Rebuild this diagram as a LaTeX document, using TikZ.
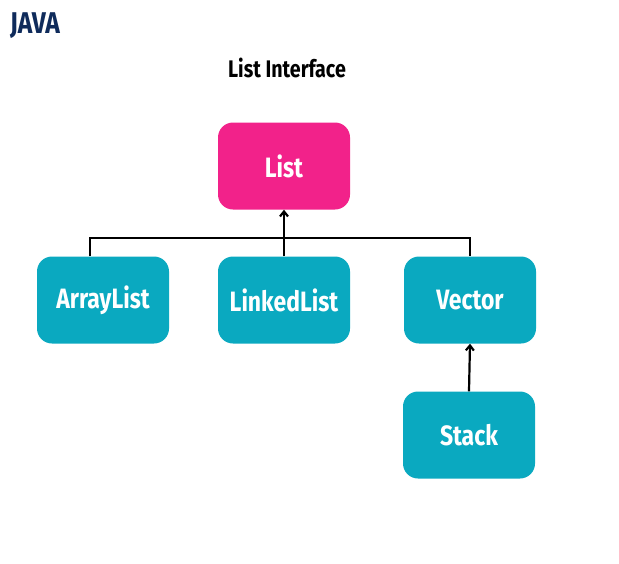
\documentclass[tikz,border=0pt]{standalone}
\usepackage{fontspec}
\setmainfont[FakeStretch=0.82]{Fira Sans}
\usetikzlibrary{arrows.meta}

\definecolor{listpink}{HTML}{F2228A}
\definecolor{implteal}{HTML}{0AA9C0}
\definecolor{javanavy}{HTML}{0F2B5B}

\tikzset{
  classbox/.style={rounded corners=15pt, minimum width=132pt, minimum height=87pt,
    text=white, font=\bfseries\fontsize{28}{32}\selectfont},
  link/.style={line width=2.2pt, black},
  uparrow/.style={link, -{Straight Barb[length=5pt, width=8pt]}}
}

\begin{document}
\begin{tikzpicture}[x=1pt, y=-1pt]
    % \draw[help lines, step=50] (0,0) grid (619,563);
    \useasboundingbox (0,0) rectangle (619,563);

    \node[text=javanavy, font=\bfseries\fontsize{30}{34}\selectfont] (java) at (35,26) {JAVA};
    \node[font=\bfseries\fontsize{24}{28}\selectfont] (title) at (287,68) {List Interface};

    \node[classbox, fill=listpink] (list) at (284,166) {List};
    \node[classbox, fill=implteal] (arraylist) at (103,300) {ArrayList};
    \node[classbox, fill=implteal] (linkedlist) at (284,300) {LinkedList};
    \node[classbox, fill=implteal] (vector) at (470,300) {Vector};
    \node[classbox, fill=implteal] (stack) at (469,435) {Stack};

    \coordinate (bus) at (284,238);
    \draw[link] ([xshift=-13pt]arraylist.north) |- (bus) -| (vector.north);
    \draw[uparrow] (linkedlist.north) -- (list.south);
    \draw[uparrow] (stack.north) -- (vector.south);

\end{tikzpicture}
\end{document}
